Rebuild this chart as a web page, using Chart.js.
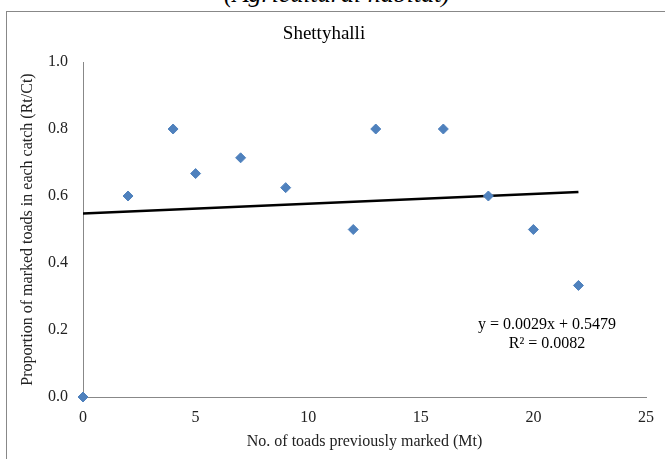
<!DOCTYPE html>
<html>
<head>
<meta charset="utf-8">
<script src="https://cdn.jsdelivr.net/npm/chart.js@4/dist/chart.umd.min.js"></script>
<style>
    html, body { margin: 0; padding: 0; background: #fff; }
    #wrap { position: relative; width: 665px; height: 459px; overflow: hidden; }
    #frame { position: absolute; left: 6px; top: 11px; width: 720px; height: 520px; border: 1px solid #888; pointer-events: none; }
    #habitat { position: absolute; left: 0; width: 674px; top: -21px; text-align: center; font: italic 26px 'Liberation Serif', serif; color: #000; }
    canvas { position: absolute; left: 0; top: 0; }
</style>
</head>
<body>
<div id="wrap">
    <div id="habitat">(Agricultural habitat)</div>
    <div id="frame"></div>
    <canvas id="myChart" width="665" height="459"></canvas>
</div>
<script>
// ข้อมูลจากภาพ
const marked = [0, 2, 4, 5, 7, 9, 12, 13, 16, 18, 20, 22];        // Mt
const proportion = [0, 0.6, 0.8, 0.667, 0.714, 0.625, 0.5, 0.8, 0.8, 0.6, 0.5, 0.333]; // Rt/Ct
const xTicks = [0, 5, 10, 15, 20, 25];
const yTicks = [0, 0.2, 0.4, 0.6, 0.8, 1.0];
const slope = 0.0029;
const intercept = 0.5479;
const trendX = [0, 22];
const equationLines = ['y = 0.0029x + 0.5479', 'R\u00b2 = 0.0082'];

const serif = "'Liberation Serif', 'Times New Roman', serif";

// เขียนสมการเส้นแนวโน้ม
const equationPlugin = {
    id: 'equation',
    afterDatasetsDraw(chart) {
        const ctx = chart.ctx;
        ctx.save();
        ctx.font = '16px ' + serif;
        ctx.fillStyle = '#000';
        ctx.textAlign = 'center';
        ctx.textBaseline = 'middle';
        ctx.fillText(equationLines[0], 547, 325);
        ctx.fillText(equationLines[1], 547, 344);
        ctx.restore();
    }
};

const ctx = document.getElementById('myChart').getContext('2d');
window.myChart = new Chart(ctx, {
    type: 'scatter',
    data: {
        datasets: [
            {
                data: marked.map((x, i) => ({ x: x, y: proportion[i] })),
                pointStyle: 'rectRot',
                pointRadius: 5,
                pointHoverRadius: 5,
                borderWidth: 1,
                borderColor: '#4F81BD',
                backgroundColor: '#4F81BD',
                clip: false
            },
            {
                type: 'line',
                data: trendX.map(x => ({ x: x, y: slope * x + intercept })),
                borderColor: '#000',
                borderWidth: 2.5,
                pointRadius: 0,
                fill: false,
                tension: 0
            }
        ]
    },
    options: {
        responsive: false,
        animation: false,
        layout: { padding: { left: 0, right: 17, top: 0, bottom: 0 } },
        plugins: {
            legend: { display: false },
            tooltip: { enabled: false },
            title: {
                display: true,
                text: 'Shettyhalli',
                color: '#000',
                font: { family: serif, size: 19, weight: 'normal' },
                padding: { top: 22.6, bottom: 16.6 }
            }
        },
        scales: {
            x: {
                type: 'linear',
                min: 0,
                max: 25,
                afterFit: scale => { scale.height = 62; },
                afterBuildTicks: scale => { scale.ticks = xTicks.map(v => ({ value: v })); },
                grid: { display: false, drawTicks: false },
                border: { display: true, color: '#888', width: 1 },
                ticks: {
                    padding: 11,
                    color: '#222',
                    font: { family: serif, size: 16 },
                    maxRotation: 0
                },
                title: {
                    display: true,
                    text: 'No. of toads previously marked (Mt)',
                    color: '#222',
                    font: { family: serif, size: 16 },
                    padding: { top: 0, bottom: 7.4 }
                }
            },
            y: {
                min: 0,
                max: 1,
                afterFit: scale => { scale.width = 83; },
                afterBuildTicks: scale => { scale.ticks = yTicks.map(v => ({ value: v })); },
                grid: { display: false, drawTicks: false },
                border: { display: true, color: '#888', width: 1 },
                ticks: {
                    padding: 15,
                    color: '#222',
                    font: { family: serif, size: 16 },
                    callback: v => v.toFixed(1)
                },
                title: {
                    display: true,
                    text: 'Proportion of marked toads in each catch (Rt/Ct)',
                    color: '#222',
                    font: { family: serif, size: 16 },
                    padding: { top: 18.4, bottom: 0 }
                }
            }
        }
    },
    plugins: [equationPlugin]
});
</script>
</body>
</html>
